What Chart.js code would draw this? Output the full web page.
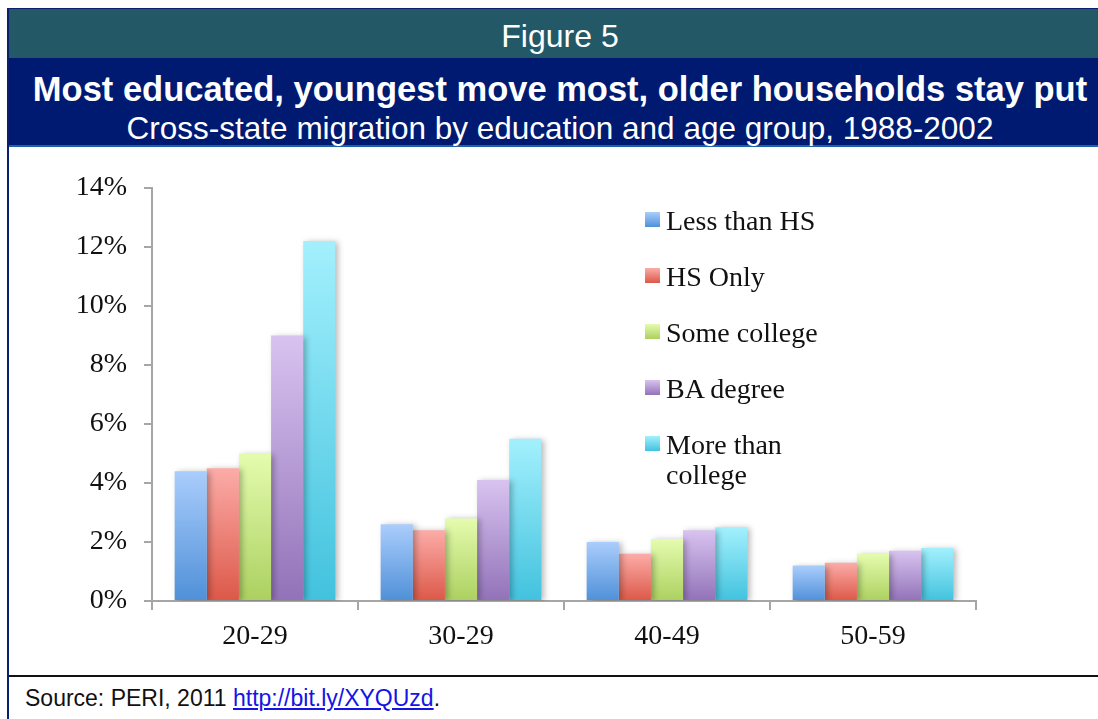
<!DOCTYPE html>
<html lang="en">
<head>
<meta charset="UTF-8">
<title>Figure 5 - Cross-state migration</title>
<script src="https://cdn.jsdelivr.net/npm/chart.js"></script>
<style>
  body { margin: 0; width: 1098px; height: 719px; overflow: hidden; background: #fff; position: relative; font-family: 'Liberation Sans', Arial, sans-serif; }
  .frame-left { position: absolute; left: 7px; top: 8px; width: 2px; height: 711px; background: #0b1f6e; }
  .frame-top { position: absolute; left: 7px; top: 8px; width: 1091px; height: 1px; background: #0b1f6e; }
  .band-teal { position: absolute; left: 9px; top: 9px; width: 1089px; height: 49px; background: #235967; }
  .band-navy { position: absolute; left: 9px; top: 58px; width: 1089px; height: 87px; background: #001a72; }
  .band-line { position: absolute; left: 9px; top: 145px; width: 1089px; height: 2px; background: #1d62ab; }
  .head { position: absolute; left: 8px; width: 1104px; text-align: center; color: #fff; line-height: 1; white-space: nowrap; }
  .footer-line { position: absolute; left: 9px; top: 675px; width: 1089px; height: 2px; background: #111; }
  .source { position: absolute; left: 25px; top: 686.5px; font-size: 23px; line-height: 1; color: #111; white-space: nowrap; }
  .source a { color: #1414e6; }
  #chartBox { position: absolute; left: 8px; top: 147px; width: 1090px; height: 528px; }
  .legend { position: absolute; left: 645px; top: 0; font-family: 'Liberation Serif', serif; font-size: 28px; line-height: 30px; color: #111; }
  .legend .item { position: absolute; left: 0; width: 220px; }
  .legend .sw { position: absolute; left: 0; top: 6.5px; width: 15px; height: 15px; }
  .legend .txt { display: block; margin-left: 21px; max-width: 172px; }
</style>
</head>
<body>
<div class="frame-top"></div>
<div class="band-teal"></div>
<div class="band-navy"></div>
<div class="band-line"></div>
<div class="frame-left"></div>
<div class="head" style="top:19.5px; font-size:32px;">Figure 5</div>
<div class="head" style="top:72px; font-size:34.5px; font-weight:bold;">Most educated, youngest move most, older households stay put</div>
<div class="head" style="top:112.5px; font-size:31.5px;">Cross-state migration by education and age group, 1988-2002</div>

<div id="chartBox"><canvas id="chart"></canvas></div>
<div class="legend" id="legend"></div>

<div class="footer-line"></div>
<div class="source">Source: PERI, 2011 <a href="#">http://bit.ly/XYQUzd</a>.</div>

<script>
// data (percent of households)
const ageGroups = ['20-29', '30-29', '40-49', '50-59'];
const seriesNames = ['Less than HS', 'HS Only', 'Some college', 'BA degree', 'More than college'];
const lessThanHS = [4.4, 2.6, 2.0, 1.2];
const hsOnly = [4.5, 2.4, 1.6, 1.3];
const someCollege = [5.0, 2.8, 2.1, 1.6];
const baDegree = [9.0, 4.1, 2.4, 1.7];
const moreThanCollege = [12.2, 5.5, 2.5, 1.8];
const yMax = 14;
const yStep = 2;

// light top / dark bottom of each bar gradient
const topColors = ['#aacdfc', '#fcaca8', '#e4fcae', '#d8c3f0', '#a3f0fd'];
const bottomColors = ['#4f90d8', '#dc5848', '#acd060', '#9272b8', '#42c2de'];

const seriesValues = [lessThanHS, hsOnly, someCollege, baDegree, moreThanCollege];
const axisGray = '#a6a6a6';
const tickFont = { family: "'Liberation Serif', serif", size: 28 };

function barGradient(i) {
  return function (ctx) {
    const chart = ctx.chart;
    if (!chart.chartArea || ctx.type !== 'data') return topColors[i];
    const y = chart.scales.y;
    const top = y.getPixelForValue(ctx.parsed.y);
    const bottom = y.getPixelForValue(0);
    const g = chart.ctx.createLinearGradient(0, top, 0, bottom);
    g.addColorStop(0, topColors[i]);
    g.addColorStop(1, bottomColors[i]);
    return g;
  };
}

const datasets = seriesNames.map((name, i) => ({
  label: name,
  data: seriesValues[i],
  backgroundColor: barGradient(i),
  borderWidth: 0,
  categoryPercentage: 0.78,
  barPercentage: 1.0
}));

// soft drop shadow under the bars
const barShadow = {
  id: 'barShadow',
  beforeDatasetsDraw(chart) {
    const c = chart.ctx;
    c.save();
    c.shadowColor = 'rgba(0,0,0,0.28)';
    c.shadowBlur = 6;
    c.shadowOffsetX = 3;
    c.shadowOffsetY = 1;
  },
  afterDatasetsDraw(chart) { chart.ctx.restore(); }
};

const chart = new Chart(document.getElementById('chart'), {
  type: 'bar',
  data: { labels: ageGroups, datasets: datasets },
  options: {
    responsive: true,
    maintainAspectRatio: false,
    animation: false,
    layout: { padding: { top: 41, right: 122, bottom: 0, left: 0 } },
    plugins: { legend: { display: false }, tooltip: { enabled: false } },
    scales: {
      x: {
        afterFit: s => { s.height = 74; },
        border: { color: axisGray, width: 2 },
        grid: { offset: true, drawOnChartArea: false, drawTicks: true, tickLength: 9, color: axisGray, lineWidth: 2 },
        ticks: { font: tickFont, color: '#111', padding: 10 }
      },
      y: {
        min: 0,
        max: yMax,
        afterFit: s => { s.width = 144; },
        border: { color: axisGray, width: 2 },
        grid: { drawOnChartArea: false, drawTicks: true, tickLength: 8, color: axisGray, lineWidth: 2 },
        ticks: { stepSize: yStep, font: tickFont, color: '#111', padding: 17, callback: v => v + '%' }
      }
    }
  },
  plugins: [barShadow]
});

// legend built from the same series names / colours
const legend = document.getElementById('legend');
seriesNames.forEach((name, i) => {
  const item = document.createElement('div');
  item.className = 'item';
  item.style.top = (205.5 + i * 56) + 'px';
  item.innerHTML = '<span class="sw" style="background:linear-gradient(' + topColors[i] + ',' + bottomColors[i] + ')"></span><span class="txt">' + name + '</span>';
  legend.appendChild(item);
});
</script>
</body>
</html>
